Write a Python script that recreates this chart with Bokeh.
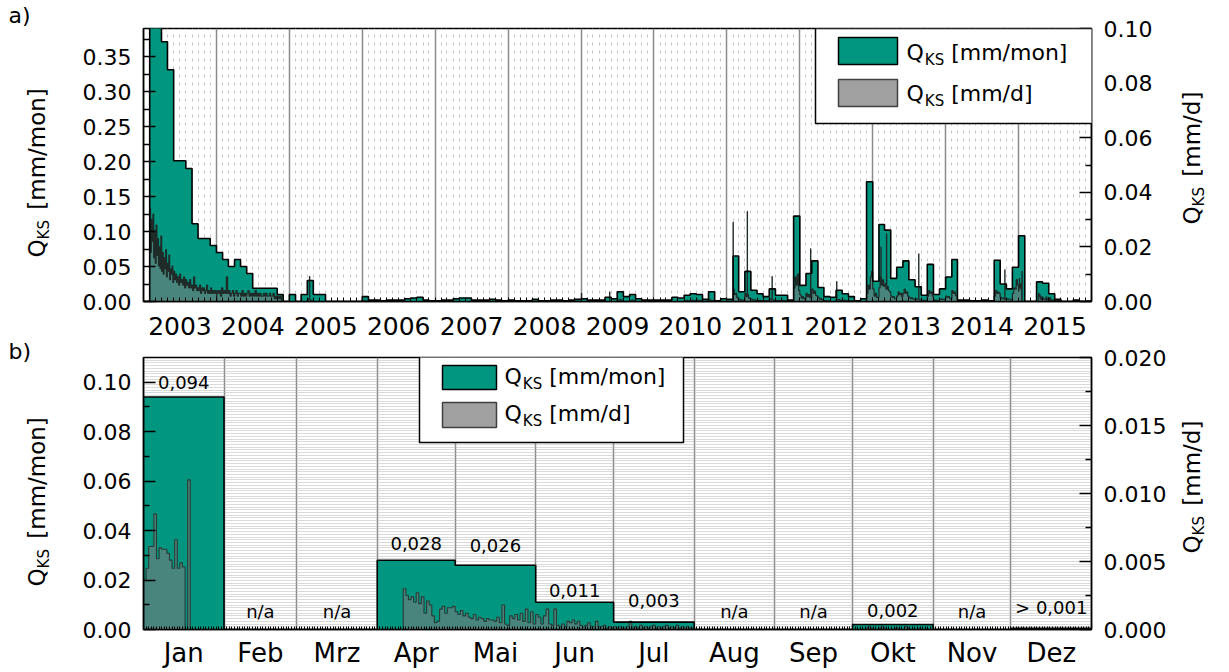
import numpy as np
import pandas as pd
from bokeh.plotting import figure
from bokeh.models import (Range1d, LinearAxis, FixedTicker, Label, BoxAnnotation, Grid,
                          ColumnDataSource, PrintfTickFormatter)
from bokeh.layouts import column, row
from bokeh.embed import file_html
from bokeh.resources import INLINE
from bokeh.core.properties import value

# ---------------- DATA ----------------
years = list(range(2003, 2016))
year_labels = [str(y) for y in years]

# monthly Q_KS [mm/mon], Jan..Dec (None = n/a)
qm_2003 = [None, 0.50, 0.42, 0.371, 0.331, 0.201, 0.201, 0.190, 0.111, 0.090, 0.090, 0.080]
qm_2004 = [0.070, 0.060, 0.050, 0.060, 0.050, 0.040, 0.019, 0.019, 0.019, 0.019, 0.010, 0.0]
qm_2005 = [0.010, 0.0, 0.010, 0.030, 0.010, 0.010, 0.0, 0.0, 0.0, 0.0, 0.0, 0.0]
qm_2006 = [0.007, 0.002, 0.002, 0.001, 0.002, 0.002, 0.002, 0.004, 0.005, 0.006, 0.002, 0.001]
qm_2007 = [0.001, 0.002, 0.002, 0.004, 0.005, 0.005, 0.002, 0.002, 0.002, 0.003, 0.002, 0.001]
qm_2008 = [0.002, 0.001, 0.001, 0.001, 0.003, 0.001, 0.001, 0.002, 0.002, 0.001, 0.002, 0.003]
qm_2009 = [0.004, 0.002, 0.002, 0.002, 0.006, 0.004, 0.014, 0.007, 0.010, 0.004, 0.002, 0.002]
qm_2010 = [0.002, 0.002, 0.002, 0.006, 0.005, 0.009, 0.011, 0.010, 0.003, 0.014, 0.001, 0.004]
qm_2011 = [0.003, 0.065, 0.014, 0.043, 0.016, 0.011, 0.007, 0.018, 0.009, 0.009, 0.002, 0.122]
qm_2012 = [0.023, 0.040, 0.058, 0.020, 0.007, 0.006, 0.016, 0.011, 0.007, 0.001, 0.004, 0.171]
qm_2013 = [0.029, 0.110, 0.102, 0.033, 0.049, 0.058, 0.031, 0.021, 0.009, 0.053, 0.010, 0.018]
qm_2014 = [0.035, 0.060, 0.002, 0.002, 0.001, 0.001, 0.002, 0.001, 0.059, 0.025, 0.018, 0.049]
qm_2015 = [0.094, None, None, 0.028, 0.026, 0.011, 0.003, None, None, 0.002, None, 0.0005]

months_de = ["Jan", "Feb", "Mrz", "Apr", "Mai", "Jun", "Jul", "Aug", "Sep", "Okt", "Nov", "Dez"]
labels_2015 = ["0,094", "n/a", "n/a", "0,028", "0,026", "0,011", "0,003", "n/a", "n/a", "0,002", "n/a", "> 0,001"]

# daily Q_KS [mm/d] 2003/2004, block values
daily_a_start, daily_a_step = "2003-02-01", 4
daily_a = [0.034, 0.018, 0.030, 0.022, 0.032, 0.016, 0.026, 0.014, 0.028, 0.017,
           0.023, 0.013, 0.020, 0.012, 0.024, 0.011, 0.018, 0.010, 0.016, 0.012,
           0.019, 0.009, 0.014, 0.011, 0.017, 0.008, 0.012, 0.010, 0.013, 0.007]
daily_b_start, daily_b_step = "2003-06-01", 5
daily_b = [0.011, 0.008, 0.010, 0.007, 0.009, 0.006, 0.010, 0.007, 0.008, 0.006,
           0.009, 0.005, 0.008, 0.006, 0.007, 0.005, 0.008, 0.005, 0.006, 0.004,
           0.009, 0.005, 0.006, 0.004, 0.005, 0.004, 0.006, 0.003, 0.005, 0.004,
           0.005, 0.003, 0.004, 0.006, 0.003, 0.004, 0.003, 0.005, 0.003, 0.004,
           0.003, 0.004, 0.003]
daily_c_start, daily_c_step = "2004-01-03", 6
daily_c = [0.004, 0.003, 0.004, 0.002, 0.005, 0.003, 0.004, 0.003, 0.009, 0.003,
           0.004, 0.002, 0.003, 0.004, 0.002, 0.003, 0.004, 0.002, 0.003, 0.003,
           0.002, 0.004, 0.002, 0.003, 0.002, 0.003, 0.004, 0.002, 0.003, 0.002,
           0.003, 0.002, 0.004, 0.002, 0.003, 0.002, 0.003, 0.002, 0.002, 0.003,
           0.002, 0.003, 0.002, 0.002, 0.003, 0.002, 0.002, 0.003, 0.001, 0.002,
           0.001, 0.002, 0.001, 0.002, 0.0]

# daily Q_KS [mm/d] 2005-2014, values per ~6-day block within a month
pentad_months = ["2005-04", "2006-01", "2009-07", "2009-09", "2010-06", "2010-07", "2010-08",
                 "2010-10", "2011-02", "2011-03", "2011-04", "2011-05", "2011-06", "2011-07",
                 "2011-08", "2011-09", "2011-10", "2011-12", "2012-01", "2012-02", "2012-03",
                 "2012-04", "2012-05", "2012-07", "2012-08", "2012-09", "2012-12", "2013-01",
                 "2013-02", "2013-03", "2013-04", "2013-05", "2013-06", "2013-07", "2013-08",
                 "2013-09", "2013-10", "2013-11", "2013-12", "2014-01", "2014-02", "2014-09",
                 "2014-10", "2014-11", "2014-12"]
pentad_vals = [
    [0.0005, 0.0010, 0.0006, 0.0003, 0.0002],
    [0.0004, 0.0002, 0.0003, 0.0002, 0.0002],
    [0.0006, 0.0005, 0.0008, 0.0004, 0.0004],
    [0.0004, 0.0003, 0.0005, 0.0003, 0.0003],
    [0.0003, 0.0003, 0.0004, 0.0002, 0.0002],
    [0.0004, 0.0005, 0.0004, 0.0003, 0.0003],
    [0.0004, 0.0003, 0.0004, 0.0003, 0.0003],
    [0.0008, 0.0005, 0.0004, 0.0003, 0.0003],
    [0.0045, 0.0025, 0.0030, 0.0015, 0.0012],
    [0.0008, 0.0005, 0.0006, 0.0004, 0.0004],
    [0.0030, 0.0018, 0.0025, 0.0012, 0.0010],
    [0.0008, 0.0005, 0.0007, 0.0005, 0.0004],
    [0.0005, 0.0003, 0.0004, 0.0003, 0.0003],
    [0.0003, 0.0002, 0.0003, 0.0002, 0.0002],
    [0.0010, 0.0006, 0.0008, 0.0004, 0.0004],
    [0.0004, 0.0003, 0.0004, 0.0003, 0.0003],
    [0.0004, 0.0003, 0.0003, 0.0002, 0.0002],
    [0.0050, 0.0090, 0.0060, 0.0100, 0.0040],
    [0.0025, 0.0012, 0.0018, 0.0010, 0.0008],
    [0.0030, 0.0018, 0.0025, 0.0014, 0.0012],
    [0.0045, 0.0030, 0.0038, 0.0022, 0.0020],
    [0.0015, 0.0008, 0.0011, 0.0006, 0.0005],
    [0.0003, 0.0002, 0.0003, 0.0002, 0.0002],
    [0.0008, 0.0005, 0.0007, 0.0004, 0.0004],
    [0.0005, 0.0004, 0.0004, 0.0003, 0.0003],
    [0.0003, 0.0002, 0.0003, 0.0002, 0.0002],
    [0.0030, 0.0060, 0.0045, 0.0090, 0.0110],
    [0.0045, 0.0020, 0.0030, 0.0015, 0.0015],
    [0.0050, 0.0090, 0.0060, 0.0080, 0.0055],
    [0.0065, 0.0045, 0.0055, 0.0040, 0.0035],
    [0.0020, 0.0015, 0.0018, 0.0010, 0.0010],
    [0.0020, 0.0035, 0.0025, 0.0030, 0.0018],
    [0.0030, 0.0045, 0.0030, 0.0035, 0.0020],
    [0.0015, 0.0010, 0.0013, 0.0009, 0.0009],
    [0.0010, 0.0008, 0.0009, 0.0006, 0.0006],
    [0.0005, 0.0004, 0.0004, 0.0003, 0.0003],
    [0.0020, 0.0040, 0.0030, 0.0035, 0.0020],
    [0.0006, 0.0004, 0.0005, 0.0003, 0.0003],
    [0.0008, 0.0010, 0.0007, 0.0008, 0.0006],
    [0.0020, 0.0015, 0.0018, 0.0010, 0.0010],
    [0.0040, 0.0030, 0.0035, 0.0022, 0.0020],
    [0.0020, 0.0040, 0.0030, 0.0035, 0.0030],
    [0.0015, 0.0010, 0.0012, 0.0008, 0.0008],
    [0.0010, 0.0008, 0.0009, 0.0006, 0.0006],
    [0.0030, 0.0050, 0.0045, 0.0080, 0.0060],
]
spike_dates = ["2005-04-12", "2009-01-03", "2009-05-24", "2011-02-01", "2011-04-13",
               "2011-08-15", "2012-02-24", "2012-07-04", "2013-02-11", "2013-03-11",
               "2013-08-19", "2014-10-24"]
spike_vals = [0.0092, 0.0030, 0.0035, 0.0290, 0.0330,
              0.0092, 0.0193, 0.0073, 0.0200, 0.0248,
              0.0175, 0.0116]

# daily Q_KS [mm/d] 2015
d2015_jan = [0.0037, 0.0045, 0.0061, 0.0061, 0.0085, 0.0052, 0.0060, 0.0059, 0.0059, 0.0056,
             0.0051, 0.0045, 0.0066, 0.0045, 0.0049, 0.0046, 0.0, 0.0110]
d2015_apr = [0, 0, 0, 0, 0, 0, 0, 0, 0, 0,
             0.0030, 0.0025, 0.0022, 0.0024, 0.0020, 0.0027, 0.0019, 0.0024, 0.0012, 0.0021,
             0.0018, 0.0010, 0.0005, 0.0006, 0.0015, 0.0017, 0.0012, 0.0016, 0.0016, 0.0017]
d2015_may = [0.0013, 0.0011, 0.0014, 0.0010, 0.0012, 0.0009, 0.0008, 0.0011, 0.0007, 0.0009,
             0.0008, 0.0006, 0.0008, 0.0007, 0.0007, 0.0006, 0.0009, 0.0005, 0.0018, 0.0004,
             0.0003, 0.0010, 0.0008, 0.0011, 0.0007, 0.0012, 0.0006, 0.0015, 0.0005, 0.0013,
             0.0004]
d2015_jun = [0.0011, 0.0009, 0.0004, 0.0010, 0.0015, 0.0004, 0.0003, 0.0015, 0.0003, 0.0002,
             0.0004, 0.0002, 0.0006, 0.0005, 0.0007, 0.0004, 0.0006, 0.0003, 0.0002, 0.0003,
             0.0005, 0.0002, 0.0002, 0.0006, 0.0002, 0.0002, 0.0003, 0.0001, 0.0002, 0.0001]
d2015_jul = [0.0002, 0.0001, 0.0002, 0.0001, 0.0001, 0.0002, 0.0006, 0.0001, 0.0002, 0.0001,
             0.0003, 0.0001, 0.0002, 0.0001, 0.0002, 0.0003, 0.0001, 0.0002, 0.0001, 0.0002,
             0.0003, 0.0001, 0.0002, 0.0001, 0.0003, 0.0001, 0.0002, 0.0001, 0.0002, 0.0001,
             0.0001]
d2015_oct = [0, 0, 0, 0, 0, 0.0001, 0.0002, 0.0001, 0, 0,
             0.0001, 0.0002, 0.0001, 0, 0, 0, 0.0001, 0.0001, 0, 0,
             0.0002, 0.0001, 0, 0, 0, 0.0001, 0, 0, 0.0001, 0, 0]

# axis ticks
top_left_ticks = [0.00, 0.05, 0.10, 0.15, 0.20, 0.25, 0.30, 0.35]
top_right_ticks = [0.00, 0.02, 0.04, 0.06, 0.08, 0.10]
bot_left_ticks = [0.00, 0.02, 0.04, 0.06, 0.08, 0.10]
bot_right_ticks = [0.000, 0.005, 0.010, 0.015, 0.020]

# ---------------- STYLE ----------------
FONT = "DejaVu Sans"
GREEN = "#00967f"
GRAY_FILL = "#7a7a7a"
DAILY_LINE = "#1f2b28"
LW, RW = 70, 52          # side title strips
PW = 1099                 # main figure width
BL, BR = 73, 70           # main figure borders -> frame 956 px
H1, H2 = 342, 328         # plot heights
S1, S2 = 330, 340         # side strip heights (independent columns)
TXT_SHIFT = 9             # render correction for text baseline (px)
label_lift = [10, 13, 13, 12, 15, 7, 17, 13, 13, 9, 13, 16]   # px above bar top


def dec_year(idx):
    idx = pd.DatetimeIndex(idx)
    doy = idx.dayofyear.values - 1
    nd = np.where(idx.is_leap_year, 366, 365)
    return idx.year.values + doy / nd


# ---- build monthly series (top) ----
qm_all = (qm_2003 + qm_2004 + qm_2005 + qm_2006 + qm_2007 + qm_2008 + qm_2009 +
          qm_2010 + qm_2011 + qm_2012 + qm_2013 + qm_2014 + qm_2015)
m_starts = pd.date_range("2003-01-01", periods=len(qm_all), freq="MS")
m_ends = m_starts + pd.offsets.MonthBegin(1)
mv = np.array([0.0 if q is None else q for q in qm_all])
mx = np.column_stack([dec_year(m_starts), dec_year(m_ends)]).ravel()
my = np.repeat(mv, 2)
mx_line = np.concatenate([[mx[0]], mx, [mx[-1]]])
my_line = np.concatenate([[0.0], my, [0.0]])

# ---- build daily series ----
d_idx = pd.date_range("2003-02-01", "2015-12-31", freq="D")
dq = pd.Series(0.0, index=d_idx)


def put_block(start, step, vals):
    t0 = pd.Timestamp(start)
    for k, v in enumerate(vals):
        a = t0 + pd.Timedelta(days=k * step)
        dq.loc[a:a + pd.Timedelta(days=step - 1)] = v


put_block(daily_a_start, daily_a_step, daily_a)
put_block(daily_b_start, daily_b_step, daily_b)
put_block(daily_c_start, daily_c_step, daily_c)


def month_days(mon):
    ms = pd.Timestamp(mon + "-01")
    return pd.date_range(ms, ms + pd.offsets.MonthEnd(0), freq="D")


for mon, vals in zip(pentad_months, pentad_vals):
    days = month_days(mon)
    for chunk, v in zip(np.array_split(np.arange(len(days)), len(vals)), vals):
        dq.loc[days[chunk]] = v
for d, v in zip(spike_dates, spike_vals):
    dq.loc[pd.Timestamp(d)] = v
for mon, vals in [("2015-01", d2015_jan), ("2015-04", d2015_apr), ("2015-05", d2015_may),
                  ("2015-06", d2015_jun), ("2015-07", d2015_jul), ("2015-10", d2015_oct)]:
    days = month_days(mon)
    dq.loc[days] = (list(vals) + [0.0] * 31)[:len(days)]

dx = np.column_stack([dec_year(d_idx), dec_year(d_idx + pd.Timedelta(days=1))]).ravel()
dy = np.repeat(dq.values, 2)

# ---- 2015 series (bottom) ----
d15 = dq.loc["2015-01-01":"2015-12-31"].values
k15 = np.arange(len(d15))
bx_d = np.column_stack([k15, k15 + 1]).ravel().astype(float)
by_d = np.repeat(d15, 2)
mstarts15 = pd.date_range("2015-01-01", periods=12, freq="MS")
medges = list((mstarts15 - pd.Timestamp("2015-01-01")).days) + [365]
mv15 = np.array([0.0 if q is None else q for q in qm_2015])
bx_m = np.column_stack([medges[:-1], medges[1:]]).ravel().astype(float)
by_m = np.repeat(mv15, 2)
bx_m_line = np.concatenate([[bx_m[0]], bx_m, [bx_m[-1]]])
by_m_line = np.concatenate([[0.0], by_m, [0.0]])
mcent = [(medges[i] + medges[i + 1]) / 2 for i in range(12)]


def style_common(p):
    p.outline_line_color = "black"
    p.outline_line_width = 1.5
    p.background_fill_color = "white"
    p.border_fill_color = "white"


def style_y(ax, ticks, minors, fmt):
    ax.ticker = FixedTicker(ticks=ticks, minor_ticks=minors)
    ax.formatter = PrintfTickFormatter(format=fmt)
    ax.major_tick_in = 12
    ax.major_tick_out = 0
    ax.minor_tick_in = 6
    ax.minor_tick_out = 0
    ax.major_tick_line_width = 1.5
    ax.minor_tick_line_width = 1.5
    ax.axis_line_width = 1.5
    ax.axis_line_color = "black"
    ax.major_tick_line_color = "black"
    ax.minor_tick_line_color = "black"
    ax.major_label_standoff = 12
    ax.major_label_text_font = FONT
    ax.major_label_text_font_size = "22px"
    ax.major_label_text_color = "black"


def style_x(ax, ticks, labels, minors, fs, standoff, minor_len):
    ax.ticker = FixedTicker(ticks=ticks, minor_ticks=minors)
    ax.major_label_overrides = {t: l for t, l in zip(ticks, labels)}
    ax.major_tick_in = 0
    ax.major_tick_out = 0
    ax.minor_tick_in = minor_len
    ax.minor_tick_out = 0
    ax.minor_tick_line_color = "black"
    ax.axis_line_width = 1.5
    ax.axis_line_color = "black"
    ax.major_label_standoff = standoff
    ax.major_label_text_font = FONT
    ax.major_label_text_font_size = fs
    ax.major_label_text_color = "black"


def add_lbl(p, x, y, text, fs):
    p.add_layout(Label(x=x, y=y, x_units="screen", y_units="screen", text=text,
                       text_font=FONT, text_font_size=f"{fs}px",
                       text_color="black", text_align="left", text_baseline="alphabetic"))


def q_ks_horiz(p, xb, yb, unit):
    fs, fss = 22, 15
    yb = yb + TXT_SHIFT
    add_lbl(p, xb, yb, "Q", fs)
    x2 = xb + 0.787 * fs + 1
    add_lbl(p, x2, yb - 7, "KS", fss)
    x3 = x2 + 1.291 * fss + 0.318 * fs
    add_lbl(p, x3, yb, unit, fs)


def box(p, l, r, b, t, fill, line, lw=1.5):
    p.add_layout(BoxAnnotation(left=l, right=r, bottom=b, top=t,
                               left_units="screen", right_units="screen",
                               bottom_units="screen", top_units="screen",
                               fill_color=fill, fill_alpha=1.0,
                               line_color=line, line_width=lw, line_alpha=1.0))


def side_fig(w, h):
    s = figure(width=w, height=h, x_range=Range1d(0, w), y_range=Range1d(0, h),
               output_backend="svg", toolbar_location=None, min_border=0, title=None,
               x_axis_location=None, y_axis_location=None)
    s.grid.visible = False
    s.outline_line_color = None
    s.background_fill_color = "white"
    s.border_fill_color = "white"
    return s


def side_text(s, x, y, text, fs, angle=0.0):
    s.text(x=[x], y=[y], text=[text], angle=angle, text_font=value(FONT),
           text_font_size=f"{fs}px", text_color="black",
           text_align="left", text_baseline="alphabetic")


def q_ks_vertical(s, xb, ys, unit):
    # xb: wanted baseline x, ys: wanted start (bottom) of text, in strip pixels
    fs, fss = 23, 15
    a = np.pi / 2
    xb = xb - TXT_SHIFT
    side_text(s, xb, ys, "Q", fs, a)
    y2 = ys + 0.787 * fs
    side_text(s, xb + 7, y2, "KS", fss, a)
    y3 = y2 + 1.291 * fss + 0.318 * fs + 3
    side_text(s, xb, y3, unit, fs, a)


# ================= TOP PANEL =================
p1 = figure(width=PW, height=H1, x_range=Range1d(2003, 2016), y_range=Range1d(0, 0.39),
            output_backend="svg", toolbar_location=None,
            min_border_left=BL, min_border_right=BR, min_border_top=28, min_border_bottom=41)
style_common(p1)
p1.extra_y_ranges = {"d": Range1d(0, 0.1)}
ax1r = LinearAxis(y_range_name="d")
p1.add_layout(ax1r, "right")
style_y(p1.left[0], top_left_ticks, [0.025 + 0.05 * i for i in range(8)], "%.2f")
style_y(ax1r, top_right_ticks, [0.01, 0.03, 0.05, 0.07, 0.09], "%.2f")
month_pos = list(dec_year(m_starts)) + [2016.0]
style_x(p1.below[0], [y + 0.5 for y in years], year_labels, month_pos, "25px", 15, 4)

p1.ygrid.visible = False
p1.xgrid.ticker = FixedTicker(ticks=[float(y) for y in years[1:]])
p1.xgrid.grid_line_color = "#8a8a8a"
p1.xgrid.grid_line_width = 1.5
g1 = Grid(dimension=0, ticker=FixedTicker(ticks=[m for m in month_pos if abs(m - round(m)) > 1e-6]),
          grid_line_color="#c4c4c4", grid_line_dash="3 5", grid_line_width=1)
p1.add_layout(g1, "center")

p1.varea(x=mx, y1=0, y2=my, fill_color=GREEN, fill_alpha=1.0)
p1.varea(x=dx, y1=0, y2=dy, fill_color=GRAY_FILL, fill_alpha=0.6, y_range_name="d")
p1.line(x=dx, y=dy, line_color=DAILY_LINE, line_width=1.2, y_range_name="d")
p1.line(x=mx_line, y=my_line, line_color="black", line_width=1.6)

# legend (top)
box(p1, 672, 954, 178, 273, "white", "black")
box(p1, 695, 754, 237, 264, GREEN, "black")
box(p1, 695, 754, 195, 222, "#a0a0a0", "#404040")
q_ks_horiz(p1, 763, 240, "[mm/mon]")
q_ks_horiz(p1, 763, 199, "[mm/d]")

# ================= BOTTOM PANEL =================
p2 = figure(width=PW, height=H2, x_range=Range1d(0, 365), y_range=Range1d(0, 0.11),
            output_backend="svg", toolbar_location=None,
            min_border_left=BL, min_border_right=BR, min_border_top=15, min_border_bottom=40)
style_common(p2)
p2.extra_y_ranges = {"d": Range1d(0, 0.02)}
ax2r = LinearAxis(y_range_name="d")
p2.add_layout(ax2r, "right")
style_y(p2.left[0], bot_left_ticks, [0.01, 0.03, 0.05, 0.07, 0.09], "%.2f")
style_y(ax2r, bot_right_ticks, [0.0025, 0.0075, 0.0125, 0.0175], "%.3f")
style_x(p2.below[0], mcent, months_de, list(range(0, 366)), "26px", 8, 3)

p2.xgrid.ticker = FixedTicker(ticks=medges[1:-1])
p2.xgrid.grid_line_color = "#8a8a8a"
p2.xgrid.grid_line_width = 1.5
p2.ygrid.ticker = FixedTicker(ticks=[0.0011 * i for i in range(1, 100)])
p2.ygrid.grid_line_color = "#b4b4b4"
p2.ygrid.grid_line_dash = "1 1"
p2.ygrid.grid_line_width = 1

p2.varea(x=bx_m, y1=0, y2=by_m, fill_color=GREEN, fill_alpha=1.0)
p2.varea(x=bx_d, y1=0, y2=by_d, fill_color=GRAY_FILL, fill_alpha=0.6, y_range_name="d")
p2.line(x=bx_d, y=by_d, line_color="#2c3a36", line_width=1.1, y_range_name="d")
p2.line(x=bx_m_line, y=by_m_line, line_color="black", line_width=1.6)

lab_src = ColumnDataSource(dict(
    x=mcent,
    y=[0.0 if q is None else q for q in qm_2015],
    text=labels_2015,
    yoff=[-(g + 5) for g in label_lift],
))
p2.text(x="x", y="y", text="text", source=lab_src, y_offset="yoff",
        text_font=value(FONT), text_font_size="18px", text_color="black",
        text_align="center", text_baseline="alphabetic")

# legend (bottom)
box(p2, 276, 540, 187, 273, "white", "black")
box(p2, 299, 353, 240, 264, GREEN, "black")
box(p2, 299, 353, 202, 227, "#a0a0a0", "#404040")
q_ks_horiz(p2, 361, 244, "[mm/mon]")
q_ks_horiz(p2, 361, 207, "[mm/d]")

# ================= SIDE STRIPS (titles, panel letters) =================
# strip coordinates: y = strip_height - (page_y - strip_top)
l1 = side_fig(LW, S1)
q_ks_vertical(l1, 45, S1 - 257, "[mm/mon]")
side_text(l1, 8, S1 - 24 + TXT_SHIFT, "a)", 22)
r1 = side_fig(RW, S1)
q_ks_vertical(r1, 31, S1 - 224, "[mm/d]")

l2 = side_fig(LW, S2)
q_ks_vertical(l2, 45, S2 - (586 - S1), "[mm/mon]")
side_text(l2, 8, S2 - (360 - S1) + TXT_SHIFT, "b)", 22)
r2 = side_fig(RW, S2)
q_ks_vertical(r2, 31, S2 - (553 - S1), "[mm/d]")

layout = row(column(l1, l2, spacing=0), column(p1, p2, spacing=0),
             column(r1, r2, spacing=0), spacing=0)
open("out.html", "w").write(file_html(layout, INLINE))
